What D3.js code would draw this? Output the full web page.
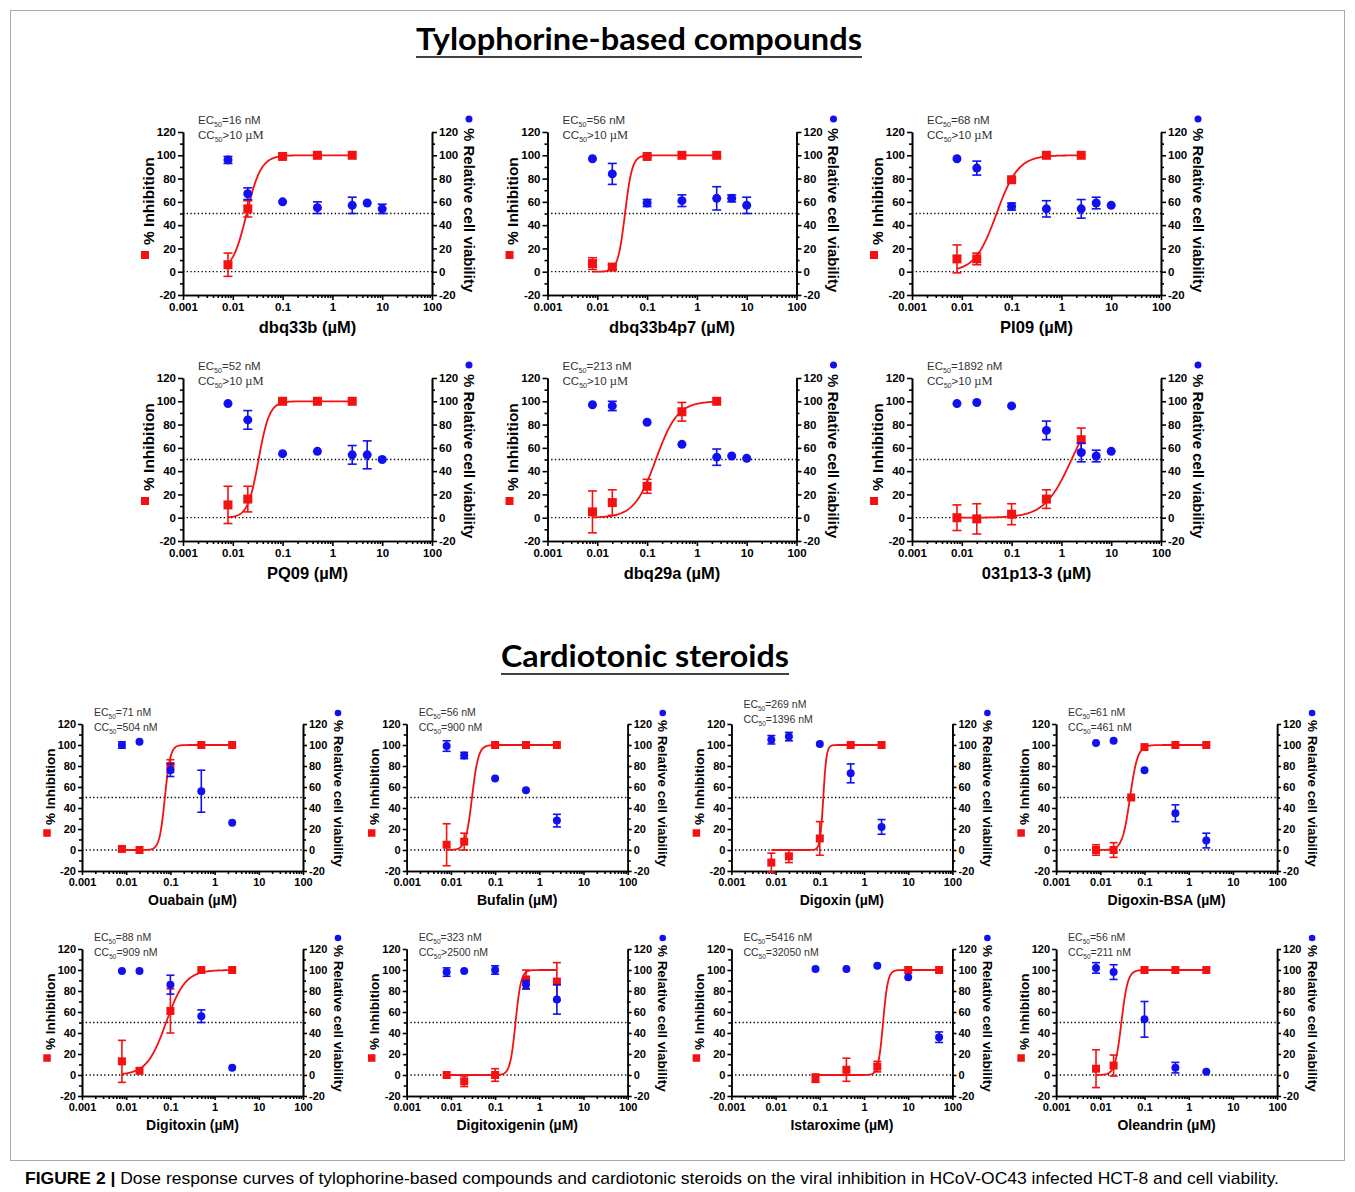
<!DOCTYPE html>
<html>
<head>
<meta charset="utf-8">
<script src="https://cdn.jsdelivr.net/npm/d3@7"></script>
<style>
  body { margin: 0; background: #fff; }
  text { font-family: "Liberation Sans", Arial, sans-serif; }
</style>
</head>
<body>
<svg id="fig" width="1355" height="1192"></svg>
<script>
// ---- data ----
const compounds = ["dbq33b", "dbq33b4p7", "PI09", "PQ09", "dbq29a", "031p13-3",
  "Ouabain", "Bufalin", "Digoxin", "Digoxin-BSA",
  "Digitoxin", "Digitoxigenin", "Istaroxime", "Oleandrin"];
const ec50Labels = ["=16 nM", "=56 nM", "=68 nM", "=52 nM", "=213 nM", "=1892 nM",
  "=71 nM", "=56 nM", "=269 nM", "=61 nM", "=88 nM", "=323 nM", "=5416 nM", "=56 nM"];
const cc50Labels = [">10 µM", ">10 µM", ">10 µM", ">10 µM", ">10 µM", ">10 µM",
  "=504 nM", "=900 nM", "=1396 nM", "=461 nM", "=909 nM", ">2500 nM", "=32050 nM", "=211 nM"];

// % inhibition (red squares)
const inhDose = [
  [0.008, 0.02, 0.1, 0.5, 2.5], [0.008, 0.02, 0.1, 0.5, 2.5], [0.008, 0.02, 0.1, 0.5, 2.5],
  [0.008, 0.02, 0.1, 0.5, 2.5], [0.008, 0.02, 0.1, 0.5, 2.5], [0.008, 0.02, 0.1, 0.5, 2.5],
  [0.008, 0.02, 0.1, 0.5, 2.5], [0.008, 0.02, 0.1, 0.5, 2.5], [0.008, 0.02, 0.1, 0.5, 2.5],
  [0.008, 0.02, 0.05, 0.1, 0.5, 2.5],
  [0.008, 0.02, 0.1, 0.5, 2.5], [0.008, 0.02, 0.1, 0.5, 2.5], [0.08, 0.4, 2, 10, 50],
  [0.008, 0.02, 0.1, 0.5, 2.5]];
const inhMean = [
  [6, 54, 99, 100, 100], [7, 4, 99, 100, 100], [11, 11, 79, 100, 100],
  [11, 16, 100, 100, 100], [5, 13, 27, 91, 100], [0, -1, 3, 16, 67],
  [1, 0, 80, 100, 100], [5, 8, 100, 100, 100], [-12, -6, 11, 100, 100],
  [0, 0, 50, 98, 100, 100],
  [13, 4, 61, 100, 100], [0, -6, 0, 91, 89], [-3, 5, 8, 100, 100], [6, 9, 100, 100, 100]];
const inhErr = [
  [10, 7, 1, 0, 0], [5, 2, 1, 0, 0], [12, 5, 1, 0, 0],
  [16, 11, 1, 0, 0], [18, 11, 6, 8, 0], [11, 13, 9, 8, 10],
  [2, 0, 6, 0, 0], [20, 8, 0, 0, 0], [9, 6, 16, 0, 0],
  [5, 7, 0, 0, 0, 0],
  [20, 0, 21, 0, 0], [0, 5, 6, 9, 18], [4, 11, 5, 0, 0], [18, 10, 0, 0, 0]];

// % relative cell viability (blue circles)
const viaDose = [
  [0.008, 0.02, 0.1, 0.5, 2.5, 5, 10], [0.008, 0.02, 0.1, 0.5, 2.5, 5, 10],
  [0.008, 0.02, 0.1, 0.5, 2.5, 5, 10], [0.008, 0.02, 0.1, 0.5, 2.5, 5, 10],
  [0.008, 0.02, 0.1, 0.5, 2.5, 5, 10], [0.008, 0.02, 0.1, 0.5, 2.5, 5, 10],
  [0.008, 0.02, 0.1, 0.5, 2.5], [0.008, 0.02, 0.1, 0.5, 2.5], [0.008, 0.02, 0.1, 0.5, 2.5],
  [0.008, 0.02, 0.1, 0.5, 2.5], [0.008, 0.02, 0.1, 0.5, 2.5], [0.008, 0.02, 0.1, 0.5, 2.5],
  [0.08, 0.4, 2, 10, 50], [0.008, 0.02, 0.1, 0.5, 2.5]];
const viaMean = [
  [96, 67, 60, 55, 57, 59, 54], [97, 84, 59, 61, 63, 63, 57], [97, 89, 56, 54, 54, 59, 57],
  [98, 84, 55, 57, 54, 54, 50], [97, 96, 82, 63, 52, 53, 51], [98, 99, 96, 75, 56, 53, 57],
  [100, 103, 76, 56, 26], [99, 90, 68, 57, 28], [105, 108, 101, 73, 22], [102, 104, 76, 35, 9],
  [99, 99, 86, 56, 7], [98, 99, 100, 86, 72], [101, 101, 104, 93, 36], [102, 98, 53, 7, 3]];
const viaErr = [
  [3, 5, 0, 5, 7, 0, 4], [0, 9, 3, 5, 10, 3, 7], [0, 6, 3, 7, 8, 5, 0],
  [0, 8, 0, 0, 8, 12, 0], [0, 4, 0, 0, 7, 0, 0], [0, 0, 0, 8, 8, 5, 0],
  [3, 0, 6, 20, 0], [5, 3, 0, 0, 6], [4, 4, 0, 9, 7], [0, 0, 0, 8, 7],
  [0, 0, 9, 6, 0], [4, 0, 4, 4, 14], [0, 0, 0, 0, 5], [5, 7, 17, 5, 0]];

// sigmoid fit parameters (midpoint in µM, Hill slope), bottom 0 / top 100
const fitMid = [0.019, 0.036, 0.05, 0.033, 0.15, 1.6, 0.075, 0.03, 0.12, 0.047, 0.08, 0.29, 2.7, 0.03];
const fitHill = [3, 6, 2, 4, 2, 1.6, 7, 6, 12, 5, 2, 7, 8, 6];

const xTickValues = [0.001, 0.01, 0.1, 1, 10, 100];
const xTickLabels = ["0.001", "0.01", "0.1", "1", "10", "100"];
const yTickValues = [-20, 0, 20, 40, 60, 80, 100, 120];
const yMinorTicks = [-10, 10, 30, 50, 70, 90, 110];

const RED = "#f41111", BLUE = "#1010f0";
const svg = d3.select("#fig");

// frame
svg.append("rect").attr("x", 10.5).attr("y", 10.5).attr("width", 1334).attr("height", 1150)
  .attr("fill", "none").attr("stroke", "#aaa").attr("stroke-width", 1);

function sectionTitle(txt, cx, base, len) {
  svg.append("text").attr("x", cx).attr("y", base).attr("text-anchor", "middle")
    .style("font-family", "Lato, 'Open Sans', sans-serif").style("font-weight", "bold")
    .style("font-size", "31px").attr("textLength", len).attr("lengthAdjust", "spacingAndGlyphs")
    .text(txt);
  svg.append("line").attr("x1", cx - len / 2).attr("x2", cx + len / 2)
    .attr("y1", base + 7).attr("y2", base + 7).attr("stroke", "#000").attr("stroke-width", 1.5);
}
sectionTitle("Tylophorine-based compounds", 639, 50, 446);
sectionTitle("Cardiotonic steroids", 645, 667, 288);

function drawPanel(i) {
  const big = i < 6;
  let left, top, w, h;
  if (big) {
    left = 183 + (i % 3) * 364.5; top = 132 + Math.floor(i / 3) * 246; w = 249; h = 163;
  } else {
    const j = i - 6;
    left = 82 + (j % 4) * 324.7; top = 724 + Math.floor(j / 4) * 225; w = 221; h = 147;
  }
  const x = d3.scaleLog().domain([0.001, 100]).range([left, left + w]);
  const y = d3.scaleLinear().domain([-20, 120]).range([top + h, top]);
  const g = svg.append("g");
  const tickFont = big ? 11.5 : 11;
  const tk = big ? 5 : 4;

  // reference lines at 0 and 50
  [0, 50].forEach(v => {
    g.append("line").attr("x1", left).attr("x2", left + w).attr("y1", y(v)).attr("y2", y(v))
      .attr("stroke", "#000").attr("stroke-width", 1.3).attr("stroke-dasharray", "1.3,2.4");
  });

  // axes
  const styleAxis = sel => {
    sel.selectAll("path, line").attr("stroke", "#000").attr("stroke-width", 1.6);
    sel.selectAll("text").attr("fill", "#000").style("font-weight", "bold").style("font-size", tickFont + "px")
      .style("font-family", "'Liberation Sans', Arial, sans-serif");
  };
  const yFmt = d => String(d);
  const minorX = x.ticks().filter(d => Math.abs(Math.log10(d) - Math.round(Math.log10(d))) > 1e-6);
  g.append("g").attr("transform", `translate(0,${top + h})`)
    .call(d3.axisBottom(x).tickValues(xTickValues).tickFormat((d, k) => xTickLabels[k])
      .tickSize(tk).tickSizeOuter(0).tickPadding(3)).call(styleAxis);
  g.append("g").attr("transform", `translate(0,${top + h})`)
    .call(d3.axisBottom(x).tickValues(minorX).tickFormat("").tickSize(3).tickSizeOuter(0)).call(styleAxis);
  g.append("g").attr("transform", `translate(${left},0)`)
    .call(d3.axisLeft(y).tickValues(yTickValues).tickFormat(yFmt).tickSize(tk).tickSizeOuter(0).tickPadding(2)).call(styleAxis);
  g.append("g").attr("transform", `translate(${left},0)`)
    .call(d3.axisLeft(y).tickValues(yMinorTicks).tickFormat("").tickSize(3).tickSizeOuter(0)).call(styleAxis);
  g.append("g").attr("transform", `translate(${left + w},0)`)
    .call(d3.axisRight(y).tickValues(yTickValues).tickFormat(yFmt).tickSize(tk).tickSizeOuter(0).tickPadding(2)).call(styleAxis);
  g.append("g").attr("transform", `translate(${left + w},0)`)
    .call(d3.axisRight(y).tickValues(yMinorTicks).tickFormat("").tickSize(3).tickSizeOuter(0)).call(styleAxis);

  // fitted inhibition curve
  const d0 = inhDose[i][0], d1 = inhDose[i][inhDose[i].length - 1];
  const curveX = d3.range(0, 201).map(k => Math.pow(10, Math.log10(d0) + k / 200 * (Math.log10(d1) - Math.log10(d0))));
  const hill = d => 100 / (1 + Math.pow(fitMid[i] / d, fitHill[i]));
  g.append("path").datum(curveX)
    .attr("d", d3.line().x(d => x(d)).y(d => y(hill(d))))
    .attr("fill", "none").attr("stroke", RED).attr("stroke-width", 1.8);

  const cap = big ? 4.5 : 4;
  function errorBars(dose, mean, err, col) {
    dose.forEach((d, k) => {
      const e = err[k];
      if (!e) return;
      const cx = x(d);
      g.append("line").attr("x1", cx).attr("x2", cx).attr("y1", y(mean[k] - e)).attr("y2", y(mean[k] + e))
        .attr("stroke", col).attr("stroke-width", 1.6);
      [mean[k] - e, mean[k] + e].forEach(v => {
        g.append("line").attr("x1", cx - cap).attr("x2", cx + cap).attr("y1", y(v)).attr("y2", y(v))
          .attr("stroke", col).attr("stroke-width", 1.6);
      });
    });
  }

  // red squares
  errorBars(inhDose[i], inhMean[i], inhErr[i], RED);
  const sq = big ? 9 : 8;
  g.selectAll(null).data(inhDose[i]).enter().append("rect")
    .attr("x", d => x(d) - sq / 2).attr("y", (d, k) => y(inhMean[i][k]) - sq / 2)
    .attr("width", sq).attr("height", sq).attr("fill", RED);

  // blue circles
  errorBars(viaDose[i], viaMean[i], viaErr[i], BLUE);
  g.selectAll(null).data(viaDose[i]).enter().append("circle")
    .attr("cx", d => x(d)).attr("cy", (d, k) => y(viaMean[i][k]))
    .attr("r", big ? 4.5 : 4).attr("fill", BLUE);

  // EC50 / CC50 annotation
  const annoFont = big ? 11.5 : 10.5;
  const annoShift = i === 8 ? -8 : 0;
  function anno(prefix, val, yy) {
    const t = g.append("text").attr("x", left + (big ? 15 : 12)).attr("y", yy)
      .attr("fill", "#333").style("font-size", annoFont + "px");
    t.append("tspan").text(prefix);
    t.append("tspan").attr("dy", 3).style("font-size", (annoFont * 0.62) + "px").text("50");
    const parts = val.split(" ");
    t.append("tspan").attr("dy", -3).text(parts[0] + " ");
    const unit = t.append("tspan").text(parts[1]);
    if (parts[1] === "µM") unit.style("font-family", "'Liberation Serif', 'Times New Roman', serif")
      .style("font-size", (annoFont + 1) + "px");
  }
  anno("EC", ec50Labels[i], top - 8 + annoShift);
  anno("CC", cc50Labels[i], top + 7 + annoShift);

  // left axis title with red square key
  const titleFont = big ? 15.5 : 13.5;
  const lx = left - (big ? 35 : 32);
  g.append("text").attr("transform", `translate(${lx},${top + h - (big ? 50 : 46)}) rotate(-90)`)
    .attr("dominant-baseline", "central").style("font-weight", "bold").style("font-size", titleFont + "px")
    .text("% Inhibition");
  const ks = big ? 8 : 7.5;
  g.append("rect").attr("x", lx - ks / 2 - 3).attr("y", top + h - (big ? 40 : 38) - ks / 2)
    .attr("width", ks).attr("height", ks).attr("fill", RED);

  // right axis title with blue circle key
  const rx = left + w + (big ? 37 : 35);
  g.append("circle").attr("cx", rx).attr("cy", top - (big ? 13 : 11)).attr("r", big ? 3.5 : 3.3).attr("fill", BLUE);
  g.append("text").attr("transform", `translate(${rx},${top - 4}) rotate(90)`)
    .attr("dominant-baseline", "central").style("font-weight", "bold")
    .style("font-size", (big ? 15 : 13.4) + "px").text("% Relative cell viability");

  // x axis title
  g.append("text").attr("x", left + w / 2).attr("y", top + h + (big ? 38 : 34)).attr("text-anchor", "middle")
    .style("font-weight", "bold").style("font-size", (big ? 16.5 : 14) + "px")
    .text(compounds[i] + " (µM)");
}

compounds.forEach((c, i) => drawPanel(i));

// caption
const caption = svg.append("text").attr("x", 25).attr("y", 1184).style("font-size", "17px")
  .attr("textLength", 1254).attr("lengthAdjust", "spacingAndGlyphs");
caption.append("tspan").style("font-weight", "bold").text("FIGURE 2 |");
caption.append("tspan").text(" Dose response curves of tylophorine-based compounds and cardiotonic steroids on the viral inhibition in HCoV-OC43 infected HCT-8 and cell viability.");
</script>
</body>
</html>
